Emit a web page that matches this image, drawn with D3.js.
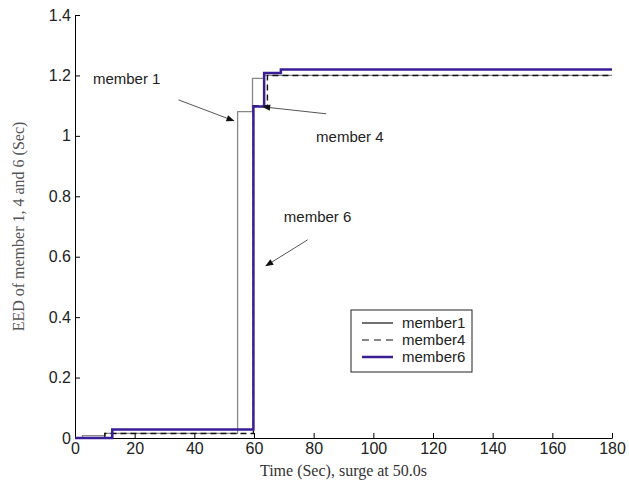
<!DOCTYPE html>
<html>
<head>
<meta charset="utf-8">
<script src="https://cdn.jsdelivr.net/npm/d3@7"></script>
<style>
  body { margin: 0; background: #fff; }
  svg { display: block; }
  .tick text { font-family: "Liberation Sans", Arial, sans-serif; font-size: 16px; fill: #222; }
  .axis path, .axis line { stroke: #000; }
</style>
</head>
<body>
<div id="chart"></div>
<script>
// ==== DATA (step series: value holds from t[i] until t[i+1]) ====
const M1_T = [0, 2.5, 10, 54.5, 59.5, 63.5, 180];
const M1_V = [0, 0.008, 0.015, 1.08, 1.19, 1.2, 1.2];
const M4_T = [0, 10, 59.8, 64.5, 180];
const M4_V = [0, 0.015, 1.1, 1.2, 1.2];
const M6_T = [0, 12.5, 59.8, 63.4, 69, 180];
const M6_V = [0, 0.028, 1.097, 1.208, 1.22, 1.22];

const X_TICKS = [0, 20, 40, 60, 80, 100, 120, 140, 160, 180];
const Y_TICKS = [0, 0.2, 0.4, 0.6, 0.8, 1, 1.2, 1.4];
const LEGEND_LABELS = ["member1", "member4", "member6"];

// annotation text [t, v] and arrows [t0, v0, t1, v1] in data units
const NOTE_LABELS = ["member 1", "member 4", "member 6"];
const NOTE_POS = [[6, 1.17], [80.8, 0.98], [70, 0.715]];
const NOTE_ARROWS = [[34.7, 1.119, 53.2, 1.05], [84.2, 1.073, 63, 1.096], [78, 0.656, 64, 0.57]];

// ==== SIZE / MARGINS ====
const width = 629, height = 488;
const margin = { top: 15, right: 17, bottom: 50, left: 75 };

const x = d3.scaleLinear().domain([0, 180]).range([margin.left, width - margin.right]);
const y = d3.scaleLinear().domain([0, 1.4]).range([height - margin.bottom, margin.top]);

const svg = d3.select("#chart").append("svg")
  .attr("width", width).attr("height", height);

svg.append("defs").append("marker")
  .attr("id", "arrow")
  .attr("viewBox", "0 0 10 10")
  .attr("refX", 9).attr("refY", 5)
  .attr("markerWidth", 10).attr("markerHeight", 8)
  .attr("markerUnits", "userSpaceOnUse")
  .attr("orient", "auto")
  .append("path").attr("d", "M0,1 L10,5 L0,9 Z").attr("fill", "#111");

// Axes (ticks point inward)
svg.append("g").attr("class", "axis")
  .attr("transform", `translate(0,${height - margin.bottom})`)
  .call(d3.axisBottom(x).tickValues(X_TICKS).tickSizeInner(-5).tickSizeOuter(0).tickPadding(4))
  .call(g => g.selectAll(".tick text").attr("dy", "0.75em"));

svg.append("g").attr("class", "axis")
  .attr("transform", `translate(${margin.left},0)`)
  .call(d3.axisLeft(y).tickValues(Y_TICKS).tickSizeInner(-5).tickSizeOuter(0).tickPadding(4)
    .tickFormat(d3.format("")));

// Axis titles
svg.append("text")
  .attr("x", (margin.left + width - margin.right) / 2)
  .attr("y", height - 12)
  .attr("text-anchor", "middle")
  .attr("font-family", "'Liberation Serif', 'Times New Roman', serif")
  .attr("font-size", 16)
  .attr("fill", "#333")
  .text("Time (Sec), surge at 50.0s");

svg.append("text")
  .attr("transform", `translate(24,${(margin.top + height - margin.bottom) / 2}) rotate(-90)`)
  .attr("text-anchor", "middle")
  .attr("font-family", "'Liberation Serif', 'Times New Roman', serif")
  .attr("font-size", 16)
  .attr("fill", "#555")
  .text("EED of member 1, 4 and 6 (Sec)");

// Lines
const line = d3.line().x(d => x(d[0])).y(d => y(d[1])).curve(d3.curveStepAfter);
const series = [
  { t: M1_T, v: M1_V, stroke: "#888", width: 1.3, dash: null },
  { t: M4_T, v: M4_V, stroke: "#111", width: 1.4, dash: "6,4" },
  { t: M6_T, v: M6_V, stroke: "#3a1e96", width: 2.5, dash: null }
];

svg.append("g").selectAll("path")
  .data(series)
  .join("path")
  .attr("fill", "none")
  .attr("stroke", d => d.stroke)
  .attr("stroke-width", d => d.width)
  .attr("stroke-dasharray", d => d.dash)
  .attr("d", d => line(d.t.map((t, i) => [t, d.v[i]])));

// Annotations
svg.append("g").selectAll("text")
  .data(NOTE_LABELS)
  .join("text")
  .attr("x", (d, i) => x(NOTE_POS[i][0]))
  .attr("y", (d, i) => y(NOTE_POS[i][1]))
  .attr("font-family", "'Liberation Sans', Arial, sans-serif")
  .attr("font-size", 15)
  .attr("fill", "#222")
  .text(d => d);

svg.append("g").selectAll("line")
  .data(NOTE_ARROWS)
  .join("line")
  .attr("x1", d => x(d[0])).attr("y1", d => y(d[1]))
  .attr("x2", d => x(d[2])).attr("y2", d => y(d[3]))
  .attr("stroke", "#555")
  .attr("stroke-width", 1)
  .attr("marker-end", "url(#arrow)");

// Legend
const legend = svg.append("g").attr("transform", "translate(351,310)");
legend.append("rect")
  .attr("width", 121).attr("height", 62)
  .attr("fill", "#fff").attr("stroke", "#222").attr("stroke-width", 1);

const rows = legend.selectAll("g.row")
  .data(LEGEND_LABELS)
  .join("g")
  .attr("class", "row")
  .attr("transform", (d, i) => `translate(0,${13 + i * 17})`);

rows.append("line")
  .attr("x1", 11).attr("x2", 42)
  .attr("stroke", (d, i) => i === 2 ? "#3a1e96" : "#111")
  .attr("stroke-width", (d, i) => i === 2 ? 2.5 : 1.2)
  .attr("stroke-dasharray", (d, i) => i === 1 ? "7,5" : null);

rows.append("text")
  .attr("x", 51).attr("y", 5)
  .attr("font-family", "'Liberation Sans', Arial, sans-serif")
  .attr("font-size", 15)
  .attr("fill", "#222")
  .text(d => d);
</script>
</body>
</html>
